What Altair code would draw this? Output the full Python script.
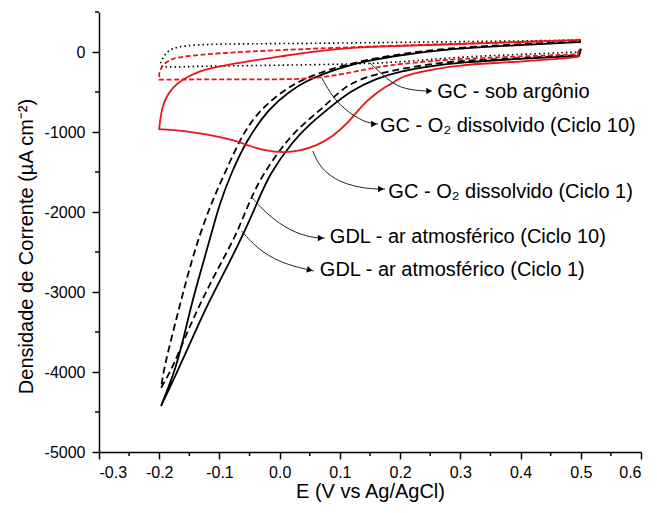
import altair as alt
import pandas as pd

FONT = "Liberation Sans, Arial, sans-serif"

# ---------------- data (E in V vs Ag/AgCl, J in uA cm-2) ----------------
# GC - sob argonio (black dotted)
argon_E = [0.5, 0.4, 0.3, 0.2, 0.15, 0.05, -0.05, -0.15, -0.2, -0.198, -0.193, -0.185, -0.17, -0.14, -0.1, 0.0, 0.1, 0.2, 0.3, 0.4, 0.5]
argon_J = [0, -30, -60, -125, -145, -160, -170, -180, -195, -140, -60, 20, 65, 90, 100, 105, 112, 120, 130, 138, 150]

# GC - O2 dissolvido (Ciclo 10) (red dashed)
o2c10_E = [0.497, 0.495, 0.4, 0.3, 0.25, 0.2, 0.17, 0.145, 0.115, 0.088, 0.06, 0.03, 0.0, -0.1, -0.2, -0.2, -0.197, -0.19, -0.178, -0.16, -0.106, 0.0, 0.1, 0.2, 0.3, 0.4, 0.5]
o2c10_J = [30, -30, -55, -85, -115, -150, -180, -215, -260, -298, -325, -338, -342, -342, -345, -270, -200, -130, -85, -55, -15, 25, 55, 80, 105, 125, 150]

# GC - O2 dissolvido (Ciclo 1) (red solid)
o2c1_E = [0.497, 0.495, 0.45, 0.4, 0.35, 0.3, 0.255, 0.22, 0.2, 0.185, 0.172, 0.158, 0.145, 0.13, 0.111, 0.089, 0.061, 0.033, 0.006, -0.022, -0.05, -0.072, -0.106, -0.161, -0.2,
          -0.199, -0.197, -0.195, -0.189, -0.178, -0.161, -0.133, -0.106, -0.05, 0.006, 0.061, 0.117, 0.2, 0.3, 0.4, 0.5]
o2c1_J = [20, -60, -95, -120, -140, -165, -215, -270, -321, -400, -450, -530, -612, -730, -904, -1050, -1175, -1237, -1258, -1237, -1175, -1112, -1050, -979, -965,
          -880, -790, -700, -571, -446, -342, -237, -187, -112, -50, 12, 54, 75, 100, 125, 150]

# GDL - ar atmosferico (Ciclo 10) (black dashed)
gdl10_E = [0.5, 0.497, 0.4, 0.3, 0.25, 0.2, 0.17, 0.145, 0.12, 0.1, 0.072, 0.039, 0.011, -0.028, -0.05, -0.072, -0.103, -0.13, -0.155, -0.178, -0.197,
           -0.192, -0.178, -0.164, -0.15, -0.133, -0.114, -0.092, -0.067, -0.05, -0.028, 0.005, 0.033, 0.067, 0.1, 0.15, 0.2, 0.28, 0.38, 0.5]
gdl10_J = [40, -40, -75, -110, -150, -215, -260, -310, -390, -488, -696, -900, -1113, -1525, -1863, -2288, -2713, -3113, -3525, -3950, -4200,
           -3950, -3525, -3113, -2713, -2288, -1900, -1525, -1113, -900, -696, -488, -363, -258, -180, -90, -25, 50, 90, 135]

# GDL - ar atmosferico (Ciclo 1) (black solid)
gdl1_E = [0.5, 0.497, 0.4, 0.3, 0.25, 0.2, 0.16, 0.117, 0.083, 0.05, 0.022, -0.017, -0.036, -0.061, -0.089, -0.117, -0.142, -0.167, -0.197,
          -0.172, -0.158, -0.145, -0.13, -0.114, -0.1, -0.081, -0.056, -0.017, 0.017, 0.044, 0.078, 0.111, 0.15, 0.2, 0.28, 0.38, 0.5]
gdl1_J = [40, -50, -85, -130, -175, -240, -330, -488, -696, -900, -1113, -1525, -1863, -2288, -2713, -3113, -3525, -3950, -4425,
          -3950, -3525, -3113, -2713, -2288, -1900, -1525, -1113, -696, -488, -363, -258, -175, -105, -40, 40, 80, 125]

# sharp vertices (indices into the arrays above)
argon_corners = []
o2c10_corners = [0, 1, 14, 15]
o2c1_corners = [0, 1, 24]
gdl10_corners = [0, 1, 20]
gdl1_corners = [0, 1, 18]

# annotations
labels = ["GC - sob argônio", "GC - O₂ dissolvido (Ciclo 10)", "GC - O₂ dissolvido (Ciclo 1)",
          "GDL - ar atmosférico (Ciclo 10)", "GDL - ar atmosférico (Ciclo 1)"]
label_E = [0.2617, 0.1667, 0.1805, 0.0833, 0.0667]
label_J = [-575, -996, -1821, -2383, -2800]

arrow_E = [[0.15, 0.1783, 0.2, 0.2333, 0.2517],
           [0.07, 0.0883, 0.1167, 0.145, 0.1633],
           [0.055, 0.0667, 0.1, 0.145, 0.175],
           [-0.045, -0.0217, 0.0167, 0.055, 0.075],
           [-0.0633, -0.0383, 0.0, 0.0567]]
arrow_J = [[-137.5, -337.5, -450, -487.5, -487.5],
           [-325, -575, -775, -887.5, -900],
           [-1237.5, -1450, -1637.5, -1712.5, -1712.5],
           [-1825, -2025, -2237.5, -2325, -2325],
           [-2237.5, -2450, -2637.5, -2737.5]]
head_E = [0.2483, 0.1567, 0.1683, 0.0683, 0.05]
head_J = [-487.5, -900, -1712.5, -2325, -2725]
head_angle = [0, 0, 0, 0, 15]

x_major = [-0.3, -0.2, -0.1, 0.0, 0.1, 0.2, 0.3, 0.4, 0.5, 0.6]
x_minor = [-0.25, -0.15, -0.05, 0.05, 0.15, 0.25, 0.35, 0.45, 0.55]
y_major = [-5000, -4000, -3000, -2000, -1000, 0]
y_minor = [-4500, -3500, -2500, -1500, -500, 500]

# ---------------- chart ----------------
W, H = 542, 440
x_scale = alt.Scale(domain=[-0.3, 0.6], nice=False, zero=False)
y_scale = alt.Scale(domain=[-5000, 500], nice=False, zero=False)

x_axis = alt.Axis(values=x_major, labelExpr="replace(format(datum.value, '.1f'), '−', '-')",
                  tickSize=7, tickWidth=1.5, domainWidth=1.5, domainColor="black", tickColor="black",
                  labelFontSize=16, labelFont=FONT, labelColor="black", labelPadding=5, grid=False,
                  title="E (V vs Ag/AgCl)", titleFontSize=20, titleFont=FONT, titleFontWeight="normal",
                  titleColor="black", titleX=W / 2, titleY=45, titleBaseline="alphabetic", titleAlign="center")
y_axis = alt.Axis(values=y_major, labelExpr="replace(format(datum.value, 'd'), '−', '-')",
                  tickSize=7, tickWidth=1.5, domainWidth=1.5, domainColor="black", tickColor="black",
                  labelFontSize=16, labelFont=FONT, labelColor="black", labelPadding=7, grid=False,
                  title="Densidade de Corrente (µA cm⁻²)", titleFontSize=20, titleFont=FONT,
                  titleFontWeight="normal", titleColor="black", titleX=-67, titleY=234, titleAngle=-90,
                  titleBaseline="alphabetic", titleAlign="center")


def X(field="E"):
    return alt.X(f"{field}:Q", scale=x_scale, axis=x_axis)


def Y(field="J"):
    return alt.Y(f"{field}:Q", scale=y_scale, axis=y_axis)


series_def = [
    ("argon", argon_E, argon_J, argon_corners, "black", [1.5, 3], 1.6),
    ("gdl10", gdl10_E, gdl10_J, gdl10_corners, "black", [7, 4], 1.8),
    ("gdl1", gdl1_E, gdl1_J, gdl1_corners, "black", None, 1.8),
    ("o2c10", o2c10_E, o2c10_J, o2c10_corners, "#e8161b", [5, 2.5], 1.8),
    ("o2c1", o2c1_E, o2c1_J, o2c1_corners, "#e8161b", None, 1.8),
]
rows = []
for name, E, J, corners, *_ in series_def:
    k = 0
    for n, (e, j) in enumerate(zip(E, J)):
        for _ in range(3 if n in corners else 1):
            rows.append({"s": name, "i": k, "E": e, "J": j})
            k += 1
curves_df = pd.DataFrame(rows)
base = alt.Chart(curves_df)

layers = []
for name, E, J, corners, color, dash, width in series_def:
    kw = dict(color=color, strokeWidth=width, interpolate="basis")
    if dash:
        kw["strokeDash"] = dash
    layers.append(base.transform_filter(alt.datum.s == name).mark_line(**kw).encode(
        x=X(), y=Y(), order="i:Q"))

arrow_rows = []
for k, (ex, jy) in enumerate(zip(arrow_E, arrow_J)):
    for i, (e, j) in enumerate(zip(ex, jy)):
        arrow_rows.append({"k": k, "i": i, "E": e, "J": j})
arrows = alt.Chart(pd.DataFrame(arrow_rows)).mark_line(
    color="#222222", strokeWidth=1, interpolate="basis").encode(
    x=X(), y=Y(), detail="k:N", order="i:Q")

heads = alt.Chart(pd.DataFrame({"E": head_E, "J": head_J, "a": head_angle})).mark_point(
    shape="triangle-right", filled=True, size=45, color="black", opacity=1).encode(
    x=X(), y=Y(), angle=alt.Angle("a:Q", scale=None))

texts = alt.Chart(pd.DataFrame({"E": label_E, "J": label_J, "t": labels})).mark_text(
    align="left", baseline="alphabetic", fontSize=20, font=FONT, color="black").encode(
    x=X(), y=Y(), text="t:N")

xminor = alt.Chart(pd.DataFrame({"E": x_minor})).mark_rule(color="black", strokeWidth=1.5).encode(
    x=X(), y=alt.value(H), y2=alt.value(H + 4))
yminor = alt.Chart(pd.DataFrame({"J": y_minor})).mark_rule(color="black", strokeWidth=1.5).encode(
    y=Y(), x=alt.value(0), x2=alt.value(-4))

chart = alt.layer(*layers, arrows, heads, texts, xminor, yminor).properties(
    width=W, height=H,
    autosize=alt.AutoSizeParams(type="none"),
    padding={"left": 91, "top": 4, "right": 8, "bottom": 53},
    background="white",
).configure_view(strokeWidth=0)

chart.save("out.html", embed_options={"renderer": "svg", "actions": False})
